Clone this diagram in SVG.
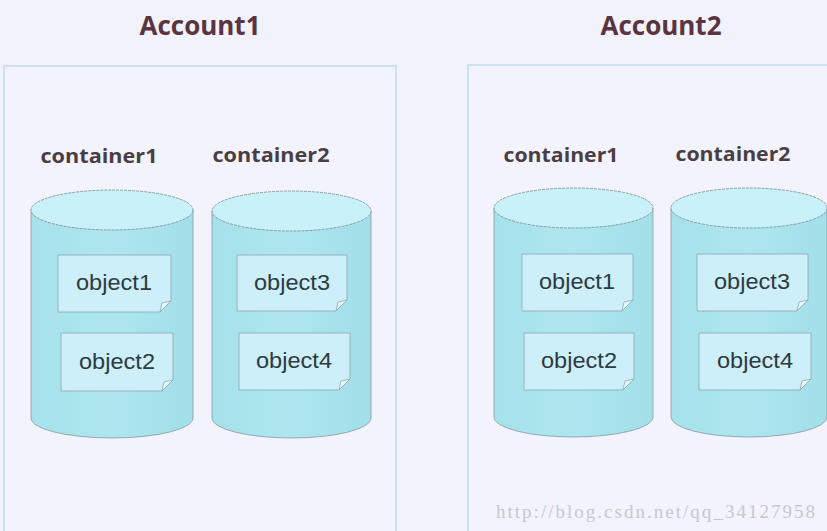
<svg xmlns="http://www.w3.org/2000/svg" width="827" height="531" viewBox="0 0 827 531">
<style>
.title{font-family:"Open Sans","Liberation Sans",sans-serif;font-weight:bold;font-size:26px;fill:#5a3440;text-anchor:middle}
.clabel{font-family:"Open Sans","Liberation Sans",sans-serif;font-weight:bold;font-size:20px;fill:#4a3e44;text-anchor:middle}
.acct{fill:#f2f3fc;stroke:#c2dcee;stroke-width:1.5}
.body{fill:url(#cylg);stroke:#8a9aa0;stroke-width:0.8}
.top{fill:#c9f1fa;stroke:#7a8a90;stroke-width:0.8;stroke-dasharray:3 1}
.obj{fill:#cdeffa;stroke:#8ea6b0;stroke-width:0.8}
.fold{fill:#e8f8fc;stroke:#8ea6b0;stroke-width:0.8}
.otext{font-family:"Liberation Sans",Arial,sans-serif;font-size:22px;fill:#2e3a40;text-anchor:middle}
.wm{font-family:"Liberation Serif","DejaVu Serif",serif;font-size:19px;fill:#c8c8cc}
</style>
<defs>
<linearGradient id="cylg" x1="0" y1="0" x2="1" y2="0">
<stop offset="0" stop-color="#a6e2eb"/>
<stop offset="0.5" stop-color="#ade6ef"/>
<stop offset="1" stop-color="#a2dfe9"/>
</linearGradient>
</defs>
<rect width="827" height="531" fill="#f1f2fb"/>
<g id="account1">
<rect class="acct" x="4" y="66" width="392" height="470"/>
<text class="title" x="200" y="35" textLength="121" lengthAdjust="spacingAndGlyphs">Account1</text>
</g>
<g id="account2">
<rect class="acct" x="468" y="65" width="370" height="470"/>
<text class="title" x="661" y="35" textLength="121" lengthAdjust="spacingAndGlyphs">Account2</text>
</g>
<g id="a1-container1">
<text class="clabel" x="99" y="163" textLength="117" lengthAdjust="spacingAndGlyphs">container1</text>
<path class="body" d="M31,210 L31,418 A81,20 0 0 0 193,418 L193,210 Z"/>
<ellipse class="top" cx="112" cy="210" rx="81" ry="20"/>
</g>
<g id="a1-container2">
<text class="clabel" x="271" y="162" textLength="117" lengthAdjust="spacingAndGlyphs">container2</text>
<path class="body" d="M212,211 L212,418 A79.5,20 0 0 0 371,418 L371,211 Z"/>
<ellipse class="top" cx="291.5" cy="211" rx="79.5" ry="20"/>
</g>
<g id="a2-container1">
<text class="clabel" x="561" y="162" textLength="115" lengthAdjust="spacingAndGlyphs">container1</text>
<path class="body" d="M494,208 L494,417 A79.5,20 0 0 0 653,417 L653,208 Z"/>
<ellipse class="top" cx="573.5" cy="208" rx="79.5" ry="20"/>
</g>
<g id="a2-container2">
<text class="clabel" x="733" y="161" textLength="115" lengthAdjust="spacingAndGlyphs">container2</text>
<path class="body" d="M671,208 L671,417 A78,20 0 0 0 827,417 L827,208 Z"/>
<ellipse class="top" cx="749" cy="208" rx="78" ry="20"/>
</g>
<g id="a1-object1">
<path class="obj" d="M58,255 H171 V301 L160,312 H58 Z"/>
<path class="fold" d="M171,301 L160,312 L162,303 Z"/>
<text class="otext" x="114" y="290" textLength="76" lengthAdjust="spacingAndGlyphs">object1</text>
</g>
<g id="a1-object2">
<path class="obj" d="M61,333 H173 V380 L162,391 H61 Z"/>
<path class="fold" d="M173,380 L162,391 L164,382 Z"/>
<text class="otext" x="117" y="369" textLength="76" lengthAdjust="spacingAndGlyphs">object2</text>
</g>
<g id="a1-object3">
<path class="obj" d="M237,255 H347 V300 L336,311 H237 Z"/>
<path class="fold" d="M347,300 L336,311 L338,302 Z"/>
<text class="otext" x="292" y="290" textLength="76" lengthAdjust="spacingAndGlyphs">object3</text>
</g>
<g id="a1-object4">
<path class="obj" d="M239,333 H350 V379 L339,390 H239 Z"/>
<path class="fold" d="M350,379 L339,390 L341,381 Z"/>
<text class="otext" x="294" y="368" textLength="76" lengthAdjust="spacingAndGlyphs">object4</text>
</g>
<g id="a2-object1">
<path class="obj" d="M522,254 H633 V300 L622,311 H522 Z"/>
<path class="fold" d="M633,300 L622,311 L624,302 Z"/>
<text class="otext" x="577" y="289" textLength="76" lengthAdjust="spacingAndGlyphs">object1</text>
</g>
<g id="a2-object2">
<path class="obj" d="M524,333 H634 V379 L623,390 H524 Z"/>
<path class="fold" d="M634,379 L623,390 L625,381 Z"/>
<text class="otext" x="579" y="368" textLength="76" lengthAdjust="spacingAndGlyphs">object2</text>
</g>
<g id="a2-object3">
<path class="obj" d="M697,254 H808 V300 L797,311 H697 Z"/>
<path class="fold" d="M808,300 L797,311 L799,302 Z"/>
<text class="otext" x="752" y="289" textLength="76" lengthAdjust="spacingAndGlyphs">object3</text>
</g>
<g id="a2-object4">
<path class="obj" d="M699,333 H811 V379 L800,390 H699 Z"/>
<path class="fold" d="M811,379 L800,390 L802,381 Z"/>
<text class="otext" x="755" y="368" textLength="76" lengthAdjust="spacingAndGlyphs">object4</text>
</g>
<g id="connectors"/>
<text class="wm" x="496" y="518" textLength="319" lengthAdjust="spacing">http://blog.csdn.net/qq_34127958</text>
</svg>
